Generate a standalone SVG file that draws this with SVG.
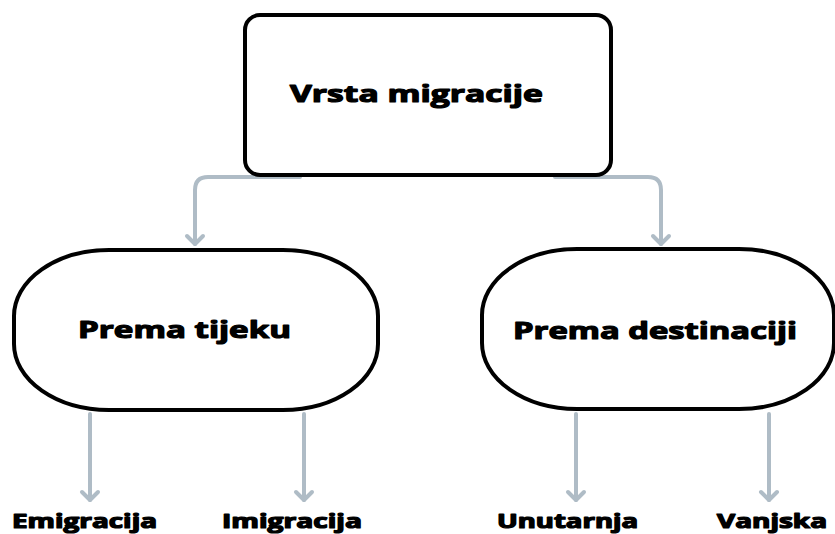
<svg xmlns="http://www.w3.org/2000/svg" width="835" height="534" viewBox="0 0 835 534">
<defs>
<style>
.node{fill:#fff;stroke:#000;stroke-width:4}
.lbl{font-family:"Open Sans","Noto Sans",sans-serif;font-weight:700;fill:#000;stroke:#000;stroke-width:1.2;stroke-linejoin:round}
.big{font-size:24px}
.small{font-size:19px}
.con{fill:none;stroke:#afbcc6;stroke-width:4;stroke-linecap:round;stroke-linejoin:round}
</style>
</defs>
<rect width="835" height="534" fill="#fff"/>
<g id="connectors" class="con">
<path d="M300 177 H208 Q195 177 195 190 V244"/>
<path d="M187 236 L195 244 L203 236"/>
<path d="M555 177 H648 Q661 177 661 190 V244"/>
<path d="M653 236 L661 244 L669 236"/>
<path d="M90 414 V500"/>
<path d="M82 492 L90 500 L98 492"/>
<path d="M304 414 V500"/>
<path d="M296 492 L304 500 L312 492"/>
<path d="M576 414 V500"/>
<path d="M568 492 L576 500 L584 492"/>
<path d="M769 414 V500"/>
<path d="M761 492 L769 500 L777 492"/>
</g>
<g id="root">
<rect class="node" x="245" y="15" width="366" height="160" rx="15"/>
<text class="lbl big" x="290" y="102" textLength="253" lengthAdjust="spacingAndGlyphs">Vrsta migracije</text>
</g>
<g id="prema-tijeku">
<rect class="node" x="14" y="250" width="364" height="160" rx="95" ry="66"/>
<text class="lbl big" x="78" y="338" textLength="213" lengthAdjust="spacingAndGlyphs">Prema tijeku</text>
</g>
<g id="prema-destinaciji">
<rect class="node" x="482" y="249" width="352" height="160" rx="95" ry="66"/>
<text class="lbl big" x="513" y="339" textLength="284" lengthAdjust="spacingAndGlyphs">Prema destinaciji</text>
</g>
<g id="emigracija"><text class="lbl small" x="12" y="528" textLength="145" lengthAdjust="spacingAndGlyphs">Emigracija</text></g>
<g id="imigracija"><text class="lbl small" x="222" y="528" textLength="140" lengthAdjust="spacingAndGlyphs">Imigracija</text></g>
<g id="unutarnja"><text class="lbl small" x="497" y="528" textLength="141" lengthAdjust="spacingAndGlyphs">Unutarnja</text></g>
<g id="vanjska"><text class="lbl small" x="717" y="528" textLength="110" lengthAdjust="spacingAndGlyphs">Vanjska</text></g>
</svg>
